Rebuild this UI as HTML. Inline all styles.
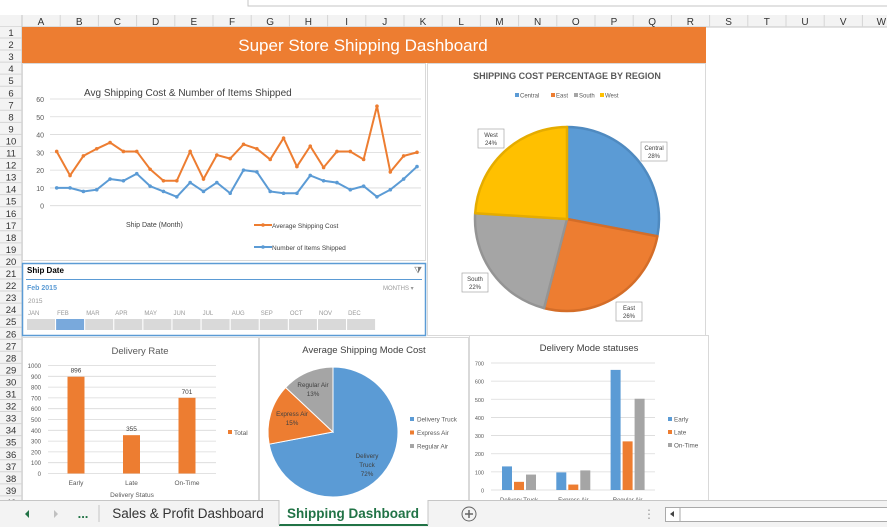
<!DOCTYPE html>
<html><head><meta charset="utf-8">
<style>
html,body{margin:0;padding:0;background:#fff;}
body{width:887px;height:527px;overflow:hidden;font-family:"Liberation Sans",sans-serif;}
svg text{font-family:"Liberation Sans",sans-serif;}
</style></head>
<body>
<svg id="s" width="887" height="527" viewBox="0 0 887 527" xmlns="http://www.w3.org/2000/svg">
<rect x="0" y="0" width="887" height="527" fill="#fff"/>
<g id="chrome">
  <rect x="248" y="-2" width="650" height="8" fill="#fff" stroke="#c6c6c6"/>
  <rect x="0" y="15" width="887" height="12" fill="#f3f3f3"/>
  <line x1="0" y1="27" x2="887" y2="27" stroke="#c6c6c6"/>
  <rect x="0" y="27" width="22" height="473" fill="#f3f3f3"/>
  <line x1="22" y1="15" x2="22" y2="500" stroke="#c6c6c6"/>
  <g id="colhdr"></g><g id="rowhdr"></g>
</g>
<rect x="22" y="27" width="684" height="36" fill="#ED7D31"/>
<text x="363" y="51" text-anchor="middle" font-size="17" fill="#fff">Super Store Shipping Dashboard</text>

<!-- panels -->
<rect x="22.5" y="63.5" width="403" height="197" fill="#fff" stroke="#d9d9d9"/>
<rect x="427.5" y="63.5" width="278" height="272" fill="#fff" stroke="#d9d9d9"/>
<rect x="22.5" y="263.5" width="403" height="72" fill="#fff" stroke="#5b9bd5" stroke-width="1.5"/>
<rect x="22.5" y="337.5" width="236" height="170" fill="#fff" stroke="#d9d9d9"/>
<rect x="259.5" y="337.5" width="209" height="170" fill="#fff" stroke="#d9d9d9"/>
<rect x="469.5" y="335.5" width="239" height="172" fill="#fff" stroke="#d9d9d9"/>

<g id="line"></g>
<g id="pie1"></g>
<g id="slicer"></g>
<g id="bar1"></g>
<g id="pie2"></g>
<g id="bar2"></g>

<!-- tab bar -->
<g>
  <rect x="0" y="500" width="887" height="27" fill="#f3f3f3"/>
  <line x1="0" y1="500.5" x2="279" y2="500.5" stroke="#c6c6c6"/>
  <line x1="428" y1="500.5" x2="887" y2="500.5" stroke="#c6c6c6"/>
  <polygon points="25,514 29,510 29,518" fill="#217346"/>
  <polygon points="58,514 54,510 54,518" fill="#c0c0c0"/>
  <text x="83" y="518" font-size="13" font-weight="bold" fill="#217346" text-anchor="middle">...</text>
  <line x1="99" y1="505" x2="99" y2="522" stroke="#c6c6c6"/>
  <text x="188" y="518" font-size="13.5" fill="#333" text-anchor="middle">Sales &amp; Profit Dashboard</text>
  <rect x="279" y="500" width="149" height="25" fill="#fff"/>
  <line x1="279" y1="525" x2="428" y2="525" stroke="#217346" stroke-width="2"/>
  <line x1="279" y1="500" x2="279" y2="525" stroke="#c6c6c6"/><line x1="428" y1="500" x2="428" y2="525" stroke="#c6c6c6"/>
  <text x="353" y="518" font-size="13.5" font-weight="bold" fill="#217346" text-anchor="middle">Shipping Dashboard</text>
  <circle cx="469" cy="514" r="7" fill="none" stroke="#666"/>
  <path d="M465 514h8M469 510v8" stroke="#666" stroke-width="1.5"/>
  <text x="649" y="518" font-size="12" fill="#999" text-anchor="middle">⋮</text>
  <rect x="665.5" y="507.5" width="222" height="14" fill="#fff" stroke="#aaa"/>
  <line x1="680" y1="508" x2="680" y2="521" stroke="#aaa"/>
  <polygon points="670,514 674,511 674,517" fill="#444"/>
</g>
</svg>
<script>
const NS="http://www.w3.org/2000/svg";
function mk(p,tag,a,txt){const e=document.createElementNS(NS,tag);for(const k in a)e.setAttribute(k,a[k]);if(txt!==undefined)e.textContent=txt;p.appendChild(e);return e;}
const G=id=>document.getElementById(id);

// headers
const colNames=["A","B","C","D","E","F","G","H","I","J","K","L","M","N","O","P","Q","R","S","T","U","V","W"];
const ch=G('colhdr');
colNames.forEach((c,i)=>{const x=22+i*38.2;
 const t=mk(ch,'text',{x:x+19,y:25,'font-size':10,fill:'#333','text-anchor':'middle'},c);
 
 
 mk(ch,'line',{x1:x+38.2,y1:15,x2:x+38.2,y2:27,stroke:'#d4d4d4'});});
const rh=G('rowhdr');
for(let r=1;r<=40;r++){const y=26+(r-1)*12.05;
 const t=mk(rh,'text',{x:11,y:y+10,'font-size':9.5,fill:'#333','text-anchor':'middle'},String(r));
 
 
 mk(rh,'line',{x1:0,y1:y+12,x2:22,y2:y+12,stroke:'#d4d4d4'});}

// ---- line chart
const avgCost=[30.5,17,28,32,35.5,30.5,30.5,20.5,14,14,30.5,15,28.5,26.5,34.5,32,26,38,22,33.5,21.5,30.5,30.5,26,56,19,28,30];
const itemsShipped=[10,10,8,9,15,14,18,11,8,5,13,8,13,7,20,19,8,7,7,17,14,13,9,11,5,9,15,22];
const lineTicks=[0,10,20,30,40,50,60];
(function(){const g=G('line');
 const y=v=>205.7-v*(106.7/60), x=i=>56.7+i*(360.3/(avgCost.length-1));
 lineTicks.forEach(t=>{mk(g,'line',{x1:50,x2:421,y1:y(t),y2:y(t),stroke:'#d9d9d9','stroke-width':0.8});
  mk(g,'text',{x:44,y:y(t)+3,'font-size':7,fill:'#595959','text-anchor':'end'},t);});
 mk(g,'text',{x:84,y:96,'font-size':10,fill:'#404040'},'Avg Shipping Cost & Number of Items Shipped');
 [[avgCost,'#ED7D31','Average Shipping Cost',225,'line-avg-cost'],[itemsShipped,'#5B9BD5','Number of Items Shipped',247,'line-items-shipped']].forEach(([d,c,lab,ly,nm])=>{
  const p=mk(g,'polyline',{points:d.map((v,i)=>x(i)+','+y(v)).join(' '),fill:'none',stroke:c,'stroke-width':2});
  
  
  d.forEach((v,i)=>{const m=mk(g,'circle',{cx:x(i),cy:y(v),r:1.8,fill:c});
   
   });
  mk(g,'line',{x1:254,x2:272,y1:ly,y2:ly,stroke:c,'stroke-width':2});
  mk(g,'circle',{cx:263,cy:ly,r:1.8,fill:c});
  const lt=mk(g,'text',{x:272,y:ly+3,'font-size':6.5,fill:'#404040'},lab);
  
  
 });
 mk(g,'text',{x:126,y:227,'font-size':7,fill:'#404040'},'Ship Date (Month)');
})();

// ---- pie helper
function arc(cx,cy,r,a0,a1){const p=a=>[cx+r*Math.sin(a),cy-r*Math.cos(a)];const [x0,y0]=p(a0),[x1,y1]=p(a1);
 return `M${cx},${cy}L${x0},${y0}A${r},${r} 0 ${a1-a0>Math.PI?1:0} 1 ${x1},${y1}Z`;}

// ---- region pie
const regions=["Central","East","South","West"];
const regionPct=[28,26,22,24];
const regionColors=["#5B9BD5","#ED7D31","#A5A5A5","#FFC000"];
const regionBorders=["#4f8ac0","#d46d28","#949494","#e5ac00"];
(function(){const g=G('pie1');
 mk(g,'text',{x:567,y:79,'font-size':9,'font-weight':'bold',fill:'#595959','text-anchor':'middle'},'SHIPPING COST PERCENTAGE BY REGION');
 const lx=[515,551,574,600];
 regions.forEach((r,i)=>{mk(g,'rect',{x:lx[i],y:93,width:4,height:4,fill:regionColors[i]});
  const t=mk(g,'text',{x:lx[i]+5,y:97.5,'font-size':6,fill:'#595959'},r);
  
  });
 const tot=regionPct.reduce((a,b)=>a+b,0);let a=0;
 const labPos=[[654,151],[629,311],[475,282],[491,138]];
 regionPct.forEach((v,i)=>{const a1=a+v/tot*2*Math.PI;
  const s=mk(g,'path',{d:arc(567,219,92,a,a1),fill:regionColors[i],stroke:regionBorders[i],'stroke-width':2.5,'stroke-linejoin':'round'});
  
  
  const [lxp,lyp]=labPos[i];
  mk(g,'rect',{x:lxp-13,y:lyp-9,width:26,height:19,fill:'#fff',stroke:'#a6a6a6','stroke-width':0.7});
  mk(g,'text',{x:lxp,y:lyp-1,'font-size':6,fill:'#404040','text-anchor':'middle'},regions[i]);
  mk(g,'text',{x:lxp,y:lyp+7,'font-size':6,fill:'#404040','text-anchor':'middle'},v+'%');
  a=a1;});
})();

// ---- slicer
const months=["JAN","FEB","MAR","APR","MAY","JUN","JUL","AUG","SEP","OCT","NOV","DEC"];
(function(){const g=G('slicer');
 mk(g,'text',{x:27,y:273,'font-size':8,'font-weight':'bold',fill:'#000'},'Ship Date');
 mk(g,'text',{x:414,y:273,'font-size':9,fill:'#777'},'⧩');
 mk(g,'line',{x1:26,x2:422,y1:279.5,y2:279.5,stroke:'#5b9bd5'});
 mk(g,'text',{x:27,y:290,'font-size':7,fill:'#5b9bd5','font-weight':'bold'},'Feb 2015');
 mk(g,'text',{x:383,y:290,'font-size':6,fill:'#999'},'MONTHS ▾');
 mk(g,'text',{x:28,y:303,'font-size':6.5,fill:'#999'},'2015');
 months.forEach((m,i)=>{const x=27+i*29.1;
  mk(g,'text',{x:x+1,y:315,'font-size':6,fill:'#999'},m);
  const r=mk(g,'rect',{x:x,y:319,width:28,height:11,fill:i===1?'#79a9dc':'#d9d9d9'});
  
  });
})();

// ---- delivery rate bars
const statusCats=["Early","Late","On-Time"];
const statusTotals=[896,355,701];
const rateTicks=[0,100,200,300,400,500,600,700,800,900,1000];
(function(){const g=G('bar1');
 const y=v=>473.5-v*(108/1000), cx=i=>76+i*55.5;
 mk(g,'text',{x:140,y:354,'font-size':9.5,fill:'#595959','text-anchor':'middle'},'Delivery Rate');
 rateTicks.forEach(t=>{mk(g,'line',{x1:48,x2:216,y1:y(t),y2:y(t),stroke:'#d9d9d9','stroke-width':0.8});
  mk(g,'text',{x:41,y:y(t)+2.5,'font-size':6,fill:'#595959','text-anchor':'end'},t);});
 statusTotals.forEach((v,i)=>{const b=mk(g,'rect',{x:cx(i)-8.5,y:y(v),width:17,height:y(0)-y(v),fill:'#ED7D31'});
  
  
  mk(g,'text',{x:cx(i),y:y(v)-4,'font-size':6.5,fill:'#404040','text-anchor':'middle'},v);
  mk(g,'text',{x:cx(i),y:485,'font-size':6.5,fill:'#595959','text-anchor':'middle'},statusCats[i]);});
 mk(g,'text',{x:132,y:497,'font-size':6.5,fill:'#595959','text-anchor':'middle'},'Delivery Status');
 mk(g,'rect',{x:228,y:430,width:4,height:4,fill:'#ED7D31'});
 mk(g,'text',{x:234,y:435,'font-size':6.5,fill:'#595959'},'Total');
})();

// ---- mode cost pie
const modes=["Delivery Truck","Express Air","Regular Air"];
const modePct=[72,15,13];
const modeColors=["#5B9BD5","#ED7D31","#A5A5A5"];
(function(){const g=G('pie2');
 mk(g,'text',{x:364,y:353,'font-size':9.5,fill:'#404040','text-anchor':'middle'},'Average Shipping Mode Cost');
 const tot=modePct.reduce((a,b)=>a+b,0);let a=0;
 const cx=333,cy=432,r=65;
 const labs=[[367,458,["Delivery","Truck"]],[292,416,["Express Air"]],[313,387,["Regular Air"]]];
 modePct.forEach((v,i)=>{const a1=a+v/tot*2*Math.PI;
  const s=mk(g,'path',{d:arc(cx,cy,r,a,a1),fill:modeColors[i],stroke:'#fff','stroke-width':1});
  
  
  const [lx,ly,ln]=labs[i];
  ln.concat([v+'%']).forEach((t,k)=>mk(g,'text',{x:lx,y:ly+k*9,'font-size':6.3,fill:'#404040','text-anchor':'middle'},t));
  mk(g,'rect',{x:410,y:417+i*13.5,width:4,height:4,fill:modeColors[i]});
  const t=mk(g,'text',{x:417,y:421.5+i*13.5,'font-size':6.3,fill:'#595959'},modes[i]);
  
  
  a=a1;});
})();

// ---- delivery mode statuses
const modeEarly=[130,97,662];
const modeLate=[45,30,268];
const modeOnTime=[85,108,503];
const modeTicks=[0,100,200,300,400,500,600,700];
(function(){const g=G('bar2');
 const y=v=>490-v*(127/700), gx=i=>519+i*54.3;
 mk(g,'text',{x:589,y:351,'font-size':9.5,fill:'#404040','text-anchor':'middle'},'Delivery Mode statuses');
 modeTicks.forEach(t=>{mk(g,'line',{x1:491,x2:655,y1:y(t),y2:y(t),stroke:'#d9d9d9','stroke-width':0.8});
  mk(g,'text',{x:484,y:y(t)+2.5,'font-size':5.5,fill:'#595959','text-anchor':'end'},t);});
 const series=[modeEarly,modeLate,modeOnTime],cols=["#5B9BD5","#ED7D31","#A5A5A5"],names=["Early","Late","On-Time"];
 series.forEach((d,s)=>{d.forEach((v,i)=>{const b=mk(g,'rect',{x:gx(i)+(s-1)*12-5,y:y(v),width:10,height:y(0)-y(v),fill:cols[s]});
   
   });
  mk(g,'rect',{x:668,y:417+s*13,width:4,height:4,fill:cols[s]});
  const t=mk(g,'text',{x:674,y:421.5+s*13,'font-size':6.3,fill:'#595959'},names[s]);
  
  });
 modes.forEach((m,i)=>mk(g,'text',{x:gx(i),y:502,'font-size':6,fill:'#595959','text-anchor':'middle'},m));
})();
</script>
</body></html>
